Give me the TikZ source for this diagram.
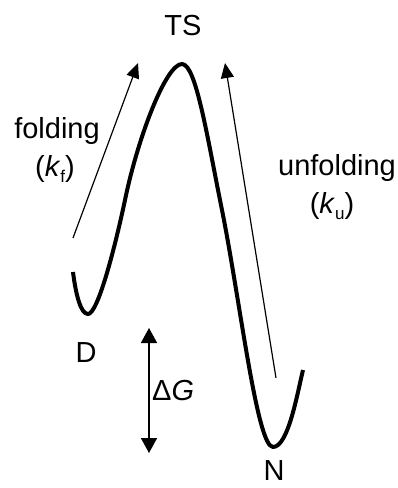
\documentclass[tikz,border=0pt]{standalone}
\usepackage{fontspec}
\setmainfont{Liberation Sans}
\usetikzlibrary{arrows.meta}
\begin{document}
\begin{tikzpicture}[x=1pt,y=-1pt,
  lbl/.style={anchor=base,inner sep=0pt,font=\fontsize{29}{32}\selectfont},
  thinarrow/.style={line width=1.2pt,-{Triangle[length=15pt,width=13pt]}},
  dblarrow/.style={line width=1.6pt,{Triangle[length=15pt,width=16pt]}-{Triangle[length=15pt,width=16pt]}},
  landscape/.style={line width=4pt,line join=round}]
\useasboundingbox (0,0) rectangle (398,488);
% energy landscape
\coordinate (s0) at (73,272);
\coordinate (dmin) at (88,314);
\coordinate (p1) at (125,200);
\coordinate (peak) at (182,64);
\coordinate (p2) at (222,210);
\coordinate (nmin) at (273,447);
\coordinate (s1) at (303,370);
\draw[landscape] (s0)
  .. controls (76,296) and (81,314) .. (dmin)
  .. controls (98,314) and (115.5,245) .. (p1)
  .. controls (138,137) and (166,64) .. (peak)
  .. controls (196,64) and (207,136) .. (p2)
  .. controls (240,300) and (257,447) .. (nmin)
  .. controls (288,447) and (297,395) .. (s1);
% labels
\node[lbl] (ts) at (183,35) {TS};
\node[lbl] (fold) at (57,138) {folding};
\node[lbl] (kf) at (55,176) {(\textit{k}\raisebox{-6pt}{\fontsize{17}{17}\selectfont f})};
\node[lbl] (unfold) at (337,175) {unfolding};
\node[lbl] (ku) at (332,213) {(\textit{k}\raisebox{-6pt}{\fontsize{17}{17}\selectfont u})};
\node[lbl] (d) at (86,362) {D};
\node[lbl] (n) at (274,480) {N};
\node[lbl,anchor=base west] (dg) at (152,400) {Δ\textit{G}};
% arrows
\coordinate (fs) at (73,238);
\coordinate (fe) at (138,63);
\coordinate (us) at (276,378);
\coordinate (ue) at (225,63);
\coordinate (gt) at (149,328);
\coordinate (gb) at (149,453);
\draw[thinarrow] (fs) -- (fe);
\draw[thinarrow] (us) -- (ue);
\draw[dblarrow] (gt) -- (gb);
\end{tikzpicture}
\end{document}
